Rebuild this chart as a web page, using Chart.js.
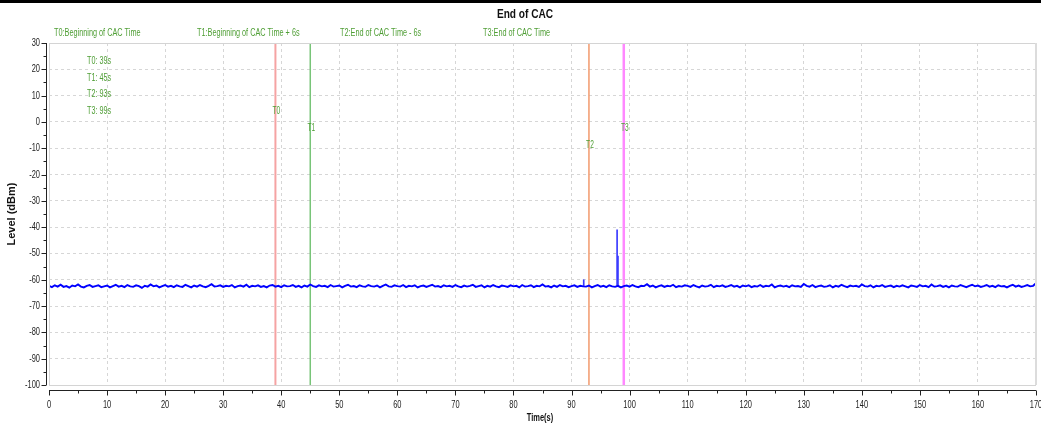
<!DOCTYPE html>
<html>
<head>
<meta charset="utf-8">
<script src="https://cdn.jsdelivr.net/npm/chart.js@4"></script>
<style>
  html, body { margin: 0; padding: 0; background: #fff; }
  #wrap { position: relative; width: 1041px; height: 432px; }
  #topbar { position: absolute; left: 0; top: 0; width: 1041px; height: 3px; background: #000; }
</style>
</head>
<body>
<div id="wrap"><canvas id="cacChart"></canvas><div id="topbar"></div></div>
<script>
// level samples every 0.5 s from 0 s to 170 s (dBm)
const sampleStep = 0.5;
const levels = [
  -62.3,-62.8,-62.1,-62.6,-61.9,-62.7,-62.4,-63.0,-62.2,-62.5,-61.8,-62.6,-62.9,-62.3,-62.0,-62.7,-62.4,-62.1,-62.8,-62.5,
  -62.2,-62.9,-62.4,-61.9,-62.6,-62.3,-62.8,-62.0,-62.5,-62.7,-62.1,-62.4,-63.1,-62.3,-62.6,-61.8,-62.5,-62.2,-62.9,-62.4,
  -62.0,-62.6,-62.3,-62.8,-62.1,-62.5,-62.7,-61.9,-62.4,-62.9,-62.2,-62.6,-62.0,-62.5,-62.8,-62.3,-61.7,-62.6,-62.4,-62.1,
  -62.7,-62.3,-62.5,-62.0,-62.9,-62.4,-62.2,-62.6,-61.9,-62.8,-62.3,-62.5,-62.1,-62.7,-62.4,-62.9,-62.2,-62.0,-62.6,-62.3,
  -62.8,-62.1,-62.5,-62.4,-62.0,-62.7,-62.3,-62.9,-62.2,-62.6,-61.8,-62.4,-62.7,-62.1,-62.5,-62.3,-62.8,-62.0,-62.6,-62.4,
  -62.2,-62.9,-62.3,-61.9,-62.6,-62.4,-62.8,-62.1,-62.5,-62.7,-62.0,-62.4,-62.6,-62.2,-62.9,-62.3,-61.8,-62.5,-62.7,-62.1,
  -62.4,-62.6,-62.0,-62.8,-62.3,-62.5,-62.1,-62.9,-62.4,-62.2,-62.7,-62.3,-61.9,-62.6,-62.4,-62.8,-62.1,-62.5,-62.3,-62.7,
  -62.0,-62.5,-62.8,-62.2,-62.6,-62.3,-61.9,-62.7,-62.4,-62.1,-62.9,-62.3,-62.6,-62.0,-62.5,-62.8,-62.2,-62.4,-62.7,-62.1,
  -62.5,-62.3,-62.9,-62.0,-62.6,-62.4,-62.1,-62.8,-62.3,-62.5,-61.8,-62.6,-62.4,-62.9,-62.2,-62.7,-62.0,-62.5,-62.3,-62.8,
  -62.4,-62.1,-62.7,-62.3,-62.5,-62.6,-62.2,-62.9,-62.4,-62.0,-62.6,-62.3,-62.8,-62.1,-62.5,-62.7,-62.3,-62.9,-62.4,-62.2,
  -62.6,-62.0,-62.5,-62.8,-62.3,-62.4,-61.7,-62.6,-62.2,-62.9,-62.4,-62.1,-62.7,-62.3,-62.5,-61.9,-62.8,-62.4,-62.6,-62.1,
  -62.3,-62.7,-62.0,-62.5,-62.9,-62.2,-62.6,-62.4,-61.9,-62.8,-62.3,-62.5,-62.1,-62.7,-62.4,-62.0,-62.6,-62.3,-62.9,-62.2,
  -62.5,-62.1,-62.8,-62.4,-62.6,-62.0,-62.7,-62.3,-62.5,-61.8,-62.9,-62.4,-62.2,-62.6,-62.3,-62.8,-62.1,-62.5,-62.4,-62.7,
  -61.6,-62.3,-62.6,-62.0,-62.8,-62.4,-62.2,-62.7,-62.5,-62.1,-62.9,-62.3,-62.6,-61.9,-62.4,-62.8,-62.2,-62.5,-62.3,-62.7,
  -61.8,-62.4,-62.6,-62.1,-62.9,-62.3,-62.5,-62.0,-62.7,-62.4,-62.2,-62.8,-62.3,-62.6,-62.1,-62.5,-62.9,-62.2,-62.4,-62.7,
  -62.0,-62.5,-62.3,-62.8,-61.8,-62.6,-62.4,-62.1,-62.7,-62.3,-62.9,-62.2,-62.5,-62.6,-62.0,-62.4,-62.8,-62.3,-61.9,-62.5,
  -62.2,-62.7,-62.4,-62.0,-62.6,-62.3,-62.8,-62.1,-62.5,-62.4,-62.9,-62.3,-61.9,-62.6,-62.2,-62.7,-62.4,-62.0,-62.5,-62.3,
  -61.3
];

// short peaks above the noise floor
const spikeTimes = [92.1, 97.85, 98.0];
const spikeTops = [-60, -41, -51];
const spikeBase = -62.4;

// CAC markers
const markerNames = ['T0', 'T1', 'T2', 'T3'];
const markerTimes = [39, 45, 93, 99];
const markerTitles = ['Beginning of CAC Time', 'Beginning of CAC Time + 6s', 'End of CAC Time - 6s', 'End of CAC Time'];
const markerColors = ['#f5a3a3', '#78c478', '#f29a6e', '#ff88ff'];
const markerWidths = [2, 1.5, 1.5, 2.5];

const xMin = 0, xMax = 170, yMin = -100, yMax = 30;

const sans = "'Liberation Sans', Arial, sans-serif";
const green = '#4f9e35';

// the original uses a narrow face; squeeze regular text horizontally
function narrowText(ctx, text, x, y, font, sx, align, color) {
    ctx.save();
    ctx.font = font;
    ctx.fillStyle = color;
    ctx.textAlign = align;
    ctx.textBaseline = 'middle';
    ctx.translate(x, y);
    ctx.scale(sx, 1);
    ctx.fillText(text, 0, 0);
    ctx.restore();
}

const decor = {
    id: 'decor',
    afterDraw(chart) {
        let ctx = chart.ctx;
        let area = chart.chartArea;
        let xs = chart.scales.x;
        let ys = chart.scales.y;
        ctx.save();

        // plot frame
        ctx.strokeStyle = '#d4d4d4';
        ctx.lineWidth = 1;
        ctx.strokeRect(area.left + 0.5, area.top + 0.5, area.right - area.left - 1, area.bottom - area.top);
        ctx.fillStyle = '#dcdcdc';
        ctx.fillRect(area.right - 1, area.top, 2, area.bottom - area.top);

        // axes drawn a little away from the frame
        ctx.strokeStyle = '#222';
        ctx.beginPath();
        let axisY = area.bottom + 5.5;
        ctx.moveTo(area.left, axisY);
        ctx.lineTo(area.right, axisY);
        xs.ticks.forEach(t => {
            let px = Math.round(xs.getPixelForValue(t.value)) + 0.5;
            ctx.moveTo(px, axisY);
            ctx.lineTo(px, axisY + (t.value % 10 === 0 ? 5 : 3));
        });
        let axisX = area.left - 2.5;
        ctx.moveTo(axisX, area.top);
        ctx.lineTo(axisX, area.bottom);
        ys.ticks.forEach(t => {
            let py = Math.round(ys.getPixelForValue(t.value)) + 0.5;
            ctx.moveTo(axisX, py);
            ctx.lineTo(axisX - (t.value % 10 === 0 ? 5 : 3), py);
        });
        ctx.stroke();
        ctx.restore();

        // tick labels
        let tickFont = '11px ' + sans;
        xs.ticks.forEach(t => {
            if (t.value % 10 !== 0) return;
            narrowText(ctx, String(t.value), xs.getPixelForValue(t.value), area.bottom + 20, tickFont, 0.68, 'center', '#222');
        });
        ys.ticks.forEach(t => {
            if (t.value % 10 !== 0) return;
            narrowText(ctx, String(t.value), area.left - 9, ys.getPixelForValue(t.value), tickFont, 0.68, 'right', '#222');
        });

        // titles
        narrowText(ctx, 'End of CAC', 525, 14, 'bold 13.5px ' + sans, 0.75, 'center', '#111');
        narrowText(ctx, 'Time(s)', 540, 418, 'bold 11px ' + sans, 0.68, 'center', '#111');
        ctx.save();
        ctx.translate(12, (area.top + area.bottom) / 2);
        ctx.rotate(-Math.PI / 2);
        ctx.font = 'bold 11px ' + sans;
        ctx.fillStyle = '#111';
        ctx.textAlign = 'center';
        ctx.textBaseline = 'middle';
        ctx.fillText('Level (dBm)', 0, 0);
        ctx.restore();

        // marker descriptions above the plot
        let small = '10px ' + sans;
        markerNames.forEach((n, i) => {
            narrowText(ctx, n + ':' + markerTitles[i], 54 + i * 143, 33, small, 0.73, 'left', green);
        });

        // marker values box
        markerNames.forEach((n, i) => {
            narrowText(ctx, n + ': ' + markerTimes[i] + 's', 87, 61.5 + i * 16.5, small, 0.72, 'left', green);
        });

        // marker tags next to the lines
        let drops = [68, 85, 102, 85];
        markerNames.forEach((n, i) => {
            let px = xs.getPixelForValue(markerTimes[i]) + 1;
            narrowText(ctx, n, px, area.top + drops[i], '11px ' + sans, 0.6, 'center', green);
        });
    }
};

let datasets = [{
    type: 'line',
    label: 'Level',
    data: levels.map((v, i) => ({x: i * sampleStep, y: v})),
    borderColor: '#0000ff',
    borderWidth: 1.9,
    pointRadius: 0,
    tension: 0,
    order: 0
}, {
    type: 'bar',
    label: 'Peaks',
    data: spikeTimes.map((t, i) => ({x: t, y: [spikeBase, spikeTops[i]]})),
    backgroundColor: '#3a3aff',
    barThickness: 1,
    order: 1
}];
markerNames.forEach((n, i) => {
    datasets.push({
        type: 'line',
        label: n,
        data: [{x: markerTimes[i], y: yMax}, {x: markerTimes[i], y: yMin}],
        borderColor: markerColors[i],
        borderWidth: markerWidths[i],
        pointRadius: 0,
        order: 2
    });
});

let gridColor = c => (c.tick && c.tick.value % 10 === 0) ? '#d6d6d6' : 'rgba(0,0,0,0)';

new Chart(document.getElementById('cacChart').getContext('2d'), {
    type: 'line',
    data: {datasets: datasets},
    options: {
        responsive: true,
        maintainAspectRatio: false,
        animation: false,
        devicePixelRatio: 1,
        layout: {padding: {left: 0, right: 5, top: 43, bottom: 0}},
        plugins: {
            legend: {display: false},
            tooltip: {enabled: false},
            title: {display: false}
        },
        scales: {
            x: {
                type: 'linear',
                min: xMin,
                max: xMax,
                offset: false,
                border: {display: false, dash: [3, 3]},
                grid: {drawTicks: false, offset: false, color: gridColor},
                ticks: {stepSize: 5, autoSkip: false, display: false},
                afterFit: s => { s.height = 47; s.paddingLeft = 0; s.paddingRight = 0; }
            },
            y: {
                min: yMin,
                max: yMax,
                border: {display: false, dash: [3, 3]},
                grid: {drawTicks: false, offset: false, color: gridColor},
                ticks: {stepSize: 5, autoSkip: false, display: false},
                afterFit: s => { s.width = 49; s.paddingTop = 0; s.paddingBottom = 0; }
            }
        }
    },
    plugins: [decor]
});
</script>
</body>
</html>
